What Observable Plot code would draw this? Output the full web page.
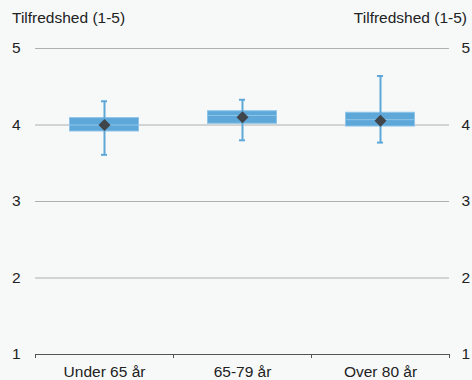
<!DOCTYPE html>
<html><head><meta charset="utf-8">
<script src="https://cdn.jsdelivr.net/npm/d3@7"></script>
<script src="https://cdn.jsdelivr.net/npm/@observablehq/plot@0.6"></script>
<style>
body{margin:0;background:#f7f9f9;font-family:"Liberation Sans",Arial,Helvetica,sans-serif;}
#wrap{width:472px;height:380px;}
.hdr{height:34px;display:flex;justify-content:space-between;align-items:center;padding:2px 5px 0 12px;box-sizing:border-box;font-size:15.5px;color:#222;}
</style></head>
<body><div id="wrap"><div class="hdr"><span>Tilfredshed (1-5)</span><span>Tilfredshed (1-5)</span></div><div id="chart"></div></div>
<script>
const categories = ["Under 65 år", "65-79 år", "Over 80 år"];
const means   = [4.00, 4.10, 4.055];
const q1      = [3.915, 4.016, 3.98];
const q3      = [4.09, 4.18, 4.16];
const medians = [4.00, 4.125, 4.07];
const lows    = [3.61, 3.80, 3.77];
const highs   = [4.31, 4.33, 4.64];
const yTicks  = [1, 2, 3, 4, 5];

const data = categories.map((c, i) => ({
  cat: c, pos: i + 0.5, mean: means[i], q1: q1[i], q3: q3[i], med: medians[i], lo: lows[i], hi: highs[i]
}));
const boxHalf = 0.25, capHalf = 0.022;
const blue = "#5ea8d9";

const chart = Plot.plot({
  width: 472, height: 346,
  marginTop: 14, marginBottom: 26, marginLeft: 35, marginRight: 23,
  style: {background: "transparent", fontFamily: "'Liberation Sans', Arial, sans-serif", fontSize: "15.5px", color: "#222"},
  x: {type: "linear", domain: [0, 3]},
  y: {domain: [1, 5]},
  marks: [
    Plot.ruleY(yTicks.filter(d => d > 1), {stroke: "#adb0b0", strokeWidth: 1}),
    Plot.ruleY([1], {stroke: "#555", strokeWidth: 1.2}),
    Plot.axisY(yTicks, {anchor: "left", tickSize: 0, tickPadding: 15, tickFormat: "d", label: null, fontSize: 15.5}),
    Plot.axisY(yTicks, {anchor: "right", tickSize: 0, tickPadding: 12, tickFormat: "d", label: null, fontSize: 15.5}),
    Plot.axisX([0, 1, 2, 3], {anchor: "bottom", tickSize: 4, tickFormat: () => "", label: null, stroke: "#555"}),
    Plot.axisX(data.map(d => d.pos), {anchor: "bottom", tickSize: 0, tickPadding: 11, tickFormat: (d, i) => categories[i], label: null, fontSize: 15.5}),
    Plot.rect(data, {x1: d => d.pos - boxHalf, x2: d => d.pos + boxHalf, y1: "q1", y2: "q3", fill: blue, stroke: "#8fc4e8", strokeWidth: 1}),
    Plot.ruleY(data, {x1: d => d.pos - boxHalf, x2: d => d.pos + boxHalf, y: "med", stroke: "#8fc4e8", strokeWidth: 1}),
    Plot.ruleX(data, {x: "pos", y1: "lo", y2: "hi", stroke: blue, strokeWidth: 2}),
    Plot.ruleY(data, {x1: d => d.pos - capHalf, x2: d => d.pos + capHalf, y: "lo", stroke: blue, strokeWidth: 2}),
    Plot.ruleY(data, {x1: d => d.pos - capHalf, x2: d => d.pos + capHalf, y: "hi", stroke: blue, strokeWidth: 2}),
    Plot.dot(data, {x: "pos", y: "mean", symbol: "diamond2", r: 5.4, fill: "#3f4549", stroke: "none"})
  ]
});
document.getElementById("chart").appendChild(chart);
</script></body></html>
